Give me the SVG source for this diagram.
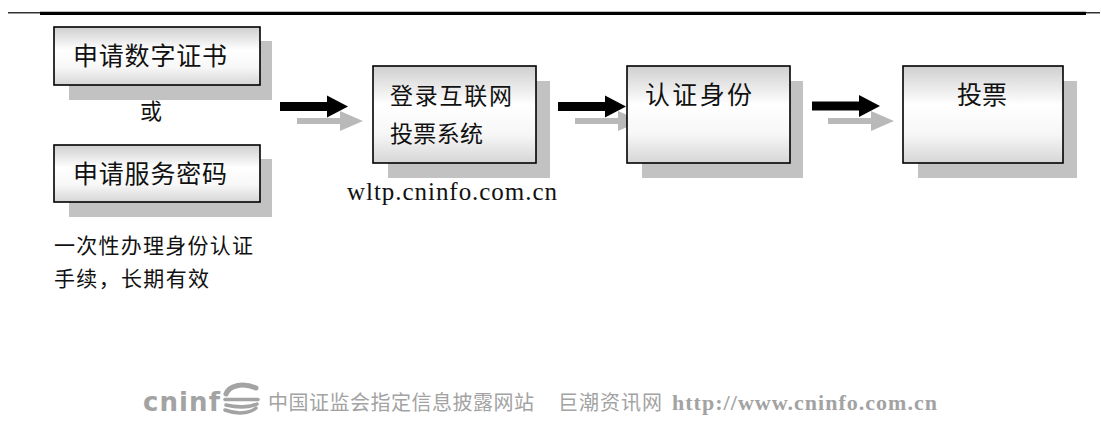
<svg xmlns="http://www.w3.org/2000/svg" width="1101" height="427" viewBox="0 0 1101 427">
<defs>
<linearGradient id="boxGrad" x1="0" y1="0" x2="0" y2="1">
<stop offset="0" stop-color="#cfcfcf"/>
<stop offset="0.4" stop-color="#ffffff"/>
<stop offset="0.7" stop-color="#f7f7f7"/>
<stop offset="1" stop-color="#d6d6d6"/>
</linearGradient>
<path id="arrowBlack" d="M0,-4.5 H47 V-11 L68,0 L47,11 V4.5 H0 Z"/>
<path id="arrowGray" d="M0,-3 H43 V-10 L66,0 L43,10 V3 H0 Z"/>
</defs>
<style>
.shadow{fill:#c2c2c2;}
.box{fill:url(#boxGrad);stroke:#000;stroke-width:1.6;}
.cjk{font-family:"Noto Sans CJK SC","Noto Sans",sans-serif;fill:#111;}
.ab{fill:#000;}
.ag{fill:#b9b9b9;}
.foot{fill:#a3a3a3;}
</style>
<rect width="1101" height="427" fill="#fff"/>
<g id="topline">
<line x1="8" y1="12.8" x2="40" y2="12.8" stroke="#000" stroke-width="1.2"/>
<line x1="40" y1="13.4" x2="1086" y2="13.4" stroke="#000" stroke-width="3.4"/>
<line x1="1086" y1="12.8" x2="1100" y2="12.8" stroke="#000" stroke-width="1.2"/>
</g>
<g id="connectors">
<use href="#arrowGray" class="ag" transform="translate(297,121)"/>
<use href="#arrowBlack" class="ab" transform="translate(280,106.5)"/>
<use href="#arrowGray" class="ag" transform="translate(575,121)"/>
<use href="#arrowBlack" class="ab" transform="translate(558,106.5)"/>
<use href="#arrowGray" class="ag" transform="translate(828,121)"/>
<use href="#arrowBlack" class="ab" transform="translate(812,106)"/>
</g>
<g id="node-cert">
<rect class="shadow" x="69" y="41" width="203" height="59"/>
<rect class="box" x="54" y="27" width="206" height="58"/>
<text class="cjk" x="73" y="65" font-size="25" textLength="154">申请数字证书</text>
</g>
<g id="label-or">
<text class="cjk" x="140" y="119" font-size="22">或</text>
</g>
<g id="node-pwd">
<rect class="shadow" x="69" y="159" width="203" height="58"/>
<rect class="box" x="54" y="145" width="206" height="57"/>
<text class="cjk" x="73" y="183" font-size="25" textLength="154">申请服务密码</text>
</g>
<g id="label-note">
<text class="cjk" x="54" y="253" font-size="21" textLength="199">一次性办理身份认证</text>
<text class="cjk" x="54" y="286" font-size="21" textLength="155">手续，长期有效</text>
</g>
<g id="node-login">
<rect class="shadow" x="388" y="81" width="162" height="97"/>
<rect class="box" x="373" y="66" width="163" height="97"/>
<text class="cjk" x="390" y="104" font-size="23" textLength="122">登录互联网</text>
<text class="cjk" x="390" y="142" font-size="23" textLength="93">投票系统</text>
<text x="347" y="200" font-family="Liberation Serif, serif" font-size="25" fill="#111" textLength="210">wltp.cninfo.com.cn</text>
</g>
<g id="node-auth">
<rect class="shadow" x="642" y="81" width="161" height="97"/>
<rect class="box" x="627" y="66" width="163" height="97"/>
<text class="cjk" x="645" y="104" font-size="25" textLength="107">认证身份</text>
</g>
<g id="node-vote">
<rect class="shadow" x="918" y="81" width="159" height="97"/>
<rect class="box" x="903" y="66" width="160" height="97"/>
<text class="cjk" x="957" y="104" font-size="25" textLength="50">投票</text>
</g>
<g id="footer">
<text x="143" y="411" font-family="DejaVu Sans, sans-serif" font-weight="bold" font-size="26" class="foot" textLength="77">cninf</text>
<g fill="none" stroke="#a3a3a3" stroke-linecap="round">
<path d="M226,394 C229,386 242,382 256,388" stroke-width="5"/>
<path d="M225,399.5 H258" stroke-width="3.5"/>
<path d="M226,405 C238,408 250,407 257,404" stroke-width="3.5"/>
<path d="M225,410 C238,415 250,413 256,408" stroke-width="3.5"/>
</g>
<text x="268" y="410" font-family="Noto Sans CJK SC, sans-serif" font-size="20" class="foot" textLength="266">中国证监会指定信息披露网站</text>
<text x="558" y="410" font-family="Noto Sans CJK SC, sans-serif" font-size="20" class="foot" textLength="104">巨潮资讯网</text>
<text x="672" y="410" font-family="Liberation Serif, serif" font-weight="bold" font-size="22" class="foot" textLength="265">http://www.cninfo.com.cn</text>
</g>
</svg>
